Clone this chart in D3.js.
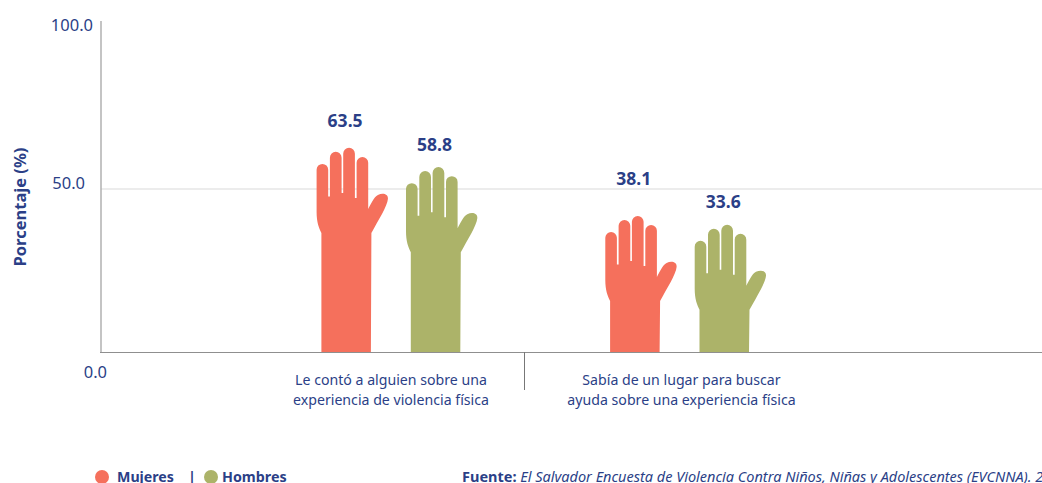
<!DOCTYPE html>
<html><head><meta charset="utf-8">
<script src="https://cdnjs.cloudflare.com/ajax/libs/d3/7.8.5/d3.min.js"></script>
<style>html,body{margin:0;padding:0;background:#fff;overflow:hidden}svg{display:block}text{font-family:"Noto Sans",sans-serif;fill:#2b3f87}</style>
</head><body><script>
const categories = ["Le contó a alguien sobre una|experiencia de violencia física","Sabía de un lugar para buscar|ayuda sobre una experiencia física"];
const seriesNames = ["Mujeres","Hombres"];
const seriesColors = ["#f5705c","#acb369"];
const mujeres = [63.5,38.1];
const hombres = [58.8,33.6];
// height of the drawn hands (the source's pictograms differ from their labels)
const mujeresHand = [62.6,41.7];
const hombresHand = [56.7,39.0];
// height at which each value label sits
const mujeresLabelAt = [69.0,51.2];
const hombresLabelAt = [61.7,44.2];
const yTicks = [0,50,100];
const W=1042,H=483;
const svg=d3.select("body").append("svg").attr("width",W).attr("height",H);
const y=d3.scaleLinear().domain([0,100]).range([352,26]);
const xc=d3.scalePoint().domain(categories).range([390.6,679.3]);
const xs=d3.scalePoint().domain(seriesNames).range([-44.7,44.7]);
const labelX=d3.scalePoint().domain(categories).range([391,681.5]);
// grid
svg.append("line").attr("x1",101).attr("x2",W).attr("y1",y(50)).attr("y2",y(50)).attr("stroke","#d9d9d9");
svg.append("line").attr("x1",101).attr("x2",101).attr("y1",21).attr("y2",y(0)).attr("stroke","#b0b0b0").attr("stroke-width",1.5);
svg.append("line").attr("x1",100).attr("x2",W).attr("y1",y(0)+.5).attr("y2",y(0)+.5).attr("stroke","#8f8f8f");
svg.append("line").attr("x1",524.5).attr("x2",524.5).attr("y1",y(0)).attr("y2",390).attr("stroke","#777");
// ticks
const tickPos={0:[107,378],50:[85,189],100:[93,31]};
yTicks.forEach(t=>svg.append("text").attr("x",tickPos[t][0]).attr("y",tickPos[t][1]).attr("text-anchor","end").attr("font-size",16.5).text(t.toFixed(1)));
svg.append("text").attr("transform","translate(26,207) rotate(-90)").attr("text-anchor","middle").attr("font-size",16.5).attr("font-weight",700).text("Porcentaje (%)");
// hand glyph, local coords: x=0 arm left, y=0 fingertip
function handPath(armBottom){
 return `M-4.3,21.8 A5.8,5.8 0 0 1 7.3,21.8 L7.3,48.5 L9,48.5 L9,9.8 A5.8,5.8 0 0 1 20.7,9.8 L20.7,45 L22.3,45 L22.3,5.8 A5.8,5.8 0 0 1 34,5.8 L34,50 L35.7,50 L35.7,14.8 A5.8,5.8 0 0 1 47.3,14.8 L47.3,61 C50,56 53,49 57,47 C62,44.5 67.5,46 67,51 C66.5,58 57,73 50.5,85 L50,${armBottom} L0.5,${armBottom} L0.5,85 C-2,80 -4.3,74 -4.3,64 Z`;
}
const groups=[mujeres,hombres], hands=[mujeresHand,hombresHand], labelAt=[mujeresLabelAt,hombresLabelAt];
groups.forEach((vals,s)=>{
 vals.forEach((v,i)=>{
  const cx=xc(categories[i])+xs(seriesNames[s]);
  const top=y(hands[s][i]);
  svg.append("path").attr("transform",`translate(${cx-25},${top})`).attr("d",handPath(y(0)-top)).attr("fill",seriesColors[s]);
  svg.append("text").attr("x",cx-0.8).attr("y",y(labelAt[s][i])).attr("text-anchor","middle").attr("font-size",17.5).attr("font-weight",700).text(v.toFixed(1));
 });
});
categories.forEach(c=>{
 c.split("|").forEach((l,i)=>svg.append("text").attr("x",labelX(c)).attr("y",385+i*20).attr("text-anchor","middle").attr("font-size",14.15).text(l));
});
// legend
const legY=477;
svg.append("circle").attr("cx",102).attr("cy",477).attr("r",7).attr("fill",seriesColors[0]);
svg.append("text").attr("x",117).attr("y",legY+5).attr("font-size",14.2).attr("font-weight",700).text("Mujeres");
svg.append("text").attr("x",188).attr("y",legY+5).attr("font-size",14.5).attr("font-weight",700).text("|");
svg.append("circle").attr("cx",211).attr("cy",477).attr("r",7).attr("fill",seriesColors[1]);
svg.append("text").attr("x",222).attr("y",legY+5).attr("font-size",14.3).attr("font-weight",700).text("Hombres");
const src=svg.append("text").attr("x",462).attr("y",legY+5).attr("font-size",14.5);
src.append("tspan").attr("font-weight",700).text("Fuente: ");
src.append("tspan").attr("font-style","italic").text("El Salvador Encuesta de Violencia Contra Niños, Niñas y Adolescentes (EVCNNA). 2018");
</script></body></html>
